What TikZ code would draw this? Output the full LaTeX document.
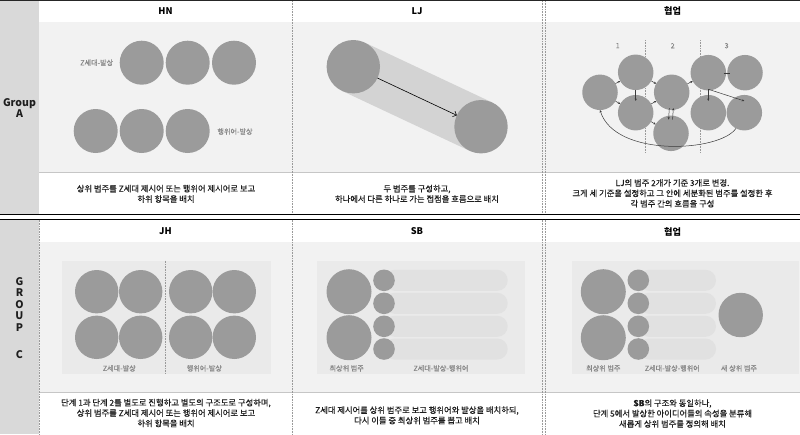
\documentclass[tikz,border=0pt]{standalone}
\usepackage{fontspec}
\setmainfont{Noto Sans CJK KR}
\newfontfamily\medfont{Noto Sans CJK KR}[FakeBold=0.35]
\usetikzlibrary{arrows.meta,calc}
\definecolor{areaC}{HTML}{F2F2F2}
\definecolor{leftC}{HTML}{D9D9D9}
\definecolor{circC}{HTML}{9B9B9B}
\definecolor{innerC}{HTML}{EAEAEA}
\definecolor{pillC}{HTML}{E1E1E1}
\definecolor{bandC}{HTML}{D3D3D3}
\definecolor{labC}{HTML}{888888}
\definecolor{txtC}{HTML}{1E1E1E}
\definecolor{sepC}{HTML}{C6C6C6}
\definecolor{arrC}{HTML}{3A3A3A}
\definecolor{dotC}{HTML}{9A9A9A}
\tikzset{
  blob/.style={circle, fill=circC, inner sep=0pt, outer sep=0pt, minimum size=#1},
  lab/.style={font=\medfont\fontsize{7.1}{8}\selectfont, text=labC, inner sep=0pt},
  ttl/.style={font=\fontsize{9.2}{11}\selectfont\bfseries, text=black, inner sep=0pt},
  body/.style={font=\medfont\fontsize{8.3}{10.4}\selectfont, text=txtC, align=center, inner sep=0pt},
  grp/.style={font=\fontsize{10.5}{11.5}\selectfont\bfseries, text=txtC, align=center, inner sep=0pt},
  arr/.style={draw=arrC, line width=0.5pt, -{Stealth[length=2.4pt,width=2.2pt]}},
  dotline/.style={draw=dotC, densely dotted, line width=0.6pt},
  pillbar/.style={fill=pillC, rounded corners=10.5pt}
}
\begin{document}
\begin{tikzpicture}[x=1pt,y=-1pt]
\fill[white] (0,0) rectangle (800,434);
\useasboundingbox (0,0) rectangle (800,434);
% backgrounds
\fill[leftC] (0,0) rectangle (39,214);
\fill[leftC] (0,219) rectangle (39,434);
\fill[areaC] (39,21.5) rectangle (800,172);
\fill[areaC] (39,241.5) rectangle (800,392);
\draw[sepC, line width=0.8pt] (39,172) -- (800,172);
\draw[sepC, line width=0.8pt] (39,392) -- (800,392);
\draw[black!85, line width=1pt] (0,0.5) -- (800,0.5);
\draw[black, line width=0.9pt] (0,214) -- (800,214);
\draw[black, line width=0.9pt] (0,219) -- (800,219);
% column dividers
\foreach \xx in {292,542,545.5} {
  \draw[dotline] (\xx,1) -- (\xx,213.5);
  \draw[dotline] (\xx,219.5) -- (\xx,434);
}
\draw[dotline] (39.5,219.5) -- (39.5,434);
% group labels
\node[grp] (gA) at (19.5,108) {Group\\A};
\node[grp] (gC) at (19.5,318) {G\\R\\O\\U\\P\\[16pt]C};
% titles
\node[ttl] (tHN) at (165.5,11) {HN};
\node[ttl] (tLJ) at (417,11) {LJ};
\node[ttl] (tHA) at (672.5,11) {협업};
\node[ttl] (tJH) at (165.5,231.5) {JH};
\node[ttl] (tSB) at (417,231.5) {SB};
\node[ttl] (tHC) at (672.5,231.5) {협업};

% ---------- HN ----------
\node[blob=44pt] (h1) at (141.7,62.7) {};
\node[blob=44pt] (h2) at (187.7,62.7) {};
\node[blob=44pt] (h3) at (234,62.7) {};
\node[blob=44pt] (h4) at (95.7,131) {};
\node[blob=44pt] (h5) at (141.7,131) {};
\node[blob=44pt] (h6) at (187.7,131) {};
\node[lab] (hl1) at (96.7,62.7) {Z세대-발상};
\node[lab] (hl2) at (235,131.5) {행위어-발상};

% ---------- LJ ----------
\coordinate (l1c) at (353.3,66.7);
\coordinate (l2c) at (481,126.7);
\draw[bandC, line width=53.4pt] (l1c) -- (l2c);
\node[blob=53.4pt] (L1) at (l1c) {};
\node[blob=53.4pt] (L2) at (l2c) {};
\draw[black, line width=0.6pt, -{Straight Barb[length=3pt,width=6pt]}] (L1) -- (L2);

% ---------- 협업 A ----------
\node[lab] (n1) at (617.7,45.7) {1};
\node[lab] (n2) at (672.7,45.7) {2};
\node[lab] (n3) at (726.7,45.7) {3};
\draw[dotline] (645.7,40) -- (645.7,153);
\draw[dotline] (700,40) -- (700,153);
\node[blob=35.5pt] (c1) at (600,92.3) {};
\node[blob=35.5pt] (c2) at (635.7,72.3) {};
\node[blob=35.5pt] (c3) at (635.7,112.7) {};
\node[blob=35.5pt] (c4) at (671.7,92.3) {};
\node[blob=35.5pt] (c5) at (671,133.3) {};
\node[blob=35.5pt] (c6) at (708.3,72.7) {};
\node[blob=35.5pt] (c7) at (745,72.7) {};
\node[blob=35.5pt] (c8) at (708.3,112.7) {};
\node[blob=35.5pt] (c9) at (744.3,112.7) {};
\draw[arr] (c1) -- (c2);
\draw[arr] (c1) -- (c3);
\draw[arr] ($(c2.south)+(0,-0.5)$) -- ($(c3.north)+(0,6)$);
\draw[arr] (c2) -- (c4);
\draw[arr] (c3) -- (c4);
\draw[arr] (c3) -- (c5);
\draw[arr] (c4) -- (c6);
\draw[arr] ($(c4.south)+(-2.4,-2)$) -- ($(c5.north)+(-2.4,4)$);
\draw[arr] ($(c5.north)+(1.6,4)$) -- ($(c4.south)+(1.6,-2)$);
\draw[draw=arrC, line width=0.6pt] ($(c6.east)+(-2.5,0.6)$) -- ($(c7.west)+(3.2,0.6)$);
\draw[arr] ($(c6.south)+(0,-1.2)$) -- ($(c8.north)+(0,6)$);
\draw[arr] ($(c6.south)+(0,-1.2)$) -- ($(c9.north)+(0,6)$);
\draw[arr] (c9.242) .. controls (720,152) and (615,158) .. (c1.south);

% ---------- JH ----------
\fill[innerC] (61.7,260.7) rectangle (270.7,374);
\draw[dotline] (165.7,260.7) -- (165.7,374);
\node[blob=43.4pt] (j1) at (96.7,291.7) {};
\node[blob=43.4pt] (j2) at (140.7,291.7) {};
\node[blob=43.4pt] (j3) at (190.7,291.7) {};
\node[blob=43.4pt] (j4) at (234.3,291.7) {};
\node[blob=43.4pt] (j5) at (96.7,337.3) {};
\node[blob=43.4pt] (j6) at (140.7,337.3) {};
\node[blob=43.4pt] (j7) at (190.7,337.3) {};
\node[blob=43.4pt] (j8) at (234.3,337.3) {};
\node[lab] (jl1) at (119.3,368.3) {Z세대-발상};
\node[lab] (jl2) at (204.3,368.3) {행위어-발상};

% ---------- SB ----------
\fill[innerC] (316.7,260.7) rectangle (525,374);
\foreach \yy in {280.3,303.3,326.3,349} {
  \fill[pillbar] (384,\yy-10.5) rectangle (507.7,\yy+10.5);
}
\node[blob=45pt] (s1) at (349,291.7) {};
\node[blob=45pt] (s2) at (349,337.7) {};
\node[blob=21.6pt] (s3) at (384,280.3) {};
\node[blob=21.6pt] (s4) at (384,303.3) {};
\node[blob=21.6pt] (s5) at (384,326.3) {};
\node[blob=21.6pt] (s6) at (384,349) {};
\node[lab] (sl1) at (346.7,368.3) {최상위 범주};
\node[lab] (sl2) at (441,368.3) {Z세대-발상-행위어};

% ---------- 협업 C ----------
\fill[innerC] (571.7,260.7) rectangle (799.3,374);
\foreach \yy in {280.3,303.3,326.3,349} {
  \fill[pillbar] (638.3,\yy-10.5) rectangle (716,\yy+10.5);
}
\node[blob=45pt] (k1) at (603.3,291.7) {};
\node[blob=45pt] (k2) at (603.3,337.7) {};
\node[blob=21.6pt] (k3) at (638.3,280.3) {};
\node[blob=21.6pt] (k4) at (638.3,303.3) {};
\node[blob=21.6pt] (k5) at (638.3,326.3) {};
\node[blob=21.6pt] (k6) at (638.3,349) {};
\node[blob=44.4pt] (k7) at (740.7,315) {};
\node[lab] (kl1) at (603.3,368.3) {최상위 범주};
\node[lab] (kl2) at (672.3,368.3) {Z세대-발상-행위어};
\node[lab] (kl3) at (739,368.3) {새 상위 범주};

% ---------- descriptions ----------
\node[body] (dA1) at (166,193.8) {상위 범주를 Z세대 제시어 또는 행위어 제시어로 보고\\하위 항목을 배치};
\node[body] (dA2) at (417,193.8) {두 범주를 구성하고,\\하나에서 다른 하나로 가는 접점을 흐름으로 배치};
\node[body] (dA3) at (672.5,193.3) {LJ의 범주 2개가 기준 3개로 변경.\\크게 세 기준을 설정하고 그 안에 세분화된 범주를 설정한 후\\각 범주 간의 흐름을 구성};
\node[body] (dC1) at (166,413) {단계 1과 단계 2를 별도로 진행하고 별도의 구조도로 구성하며,\\상위 범주를 Z세대 제시어 또는 행위어 제시어로 보고\\하위 항목을 배치};
\node[body] (dC2) at (417,415.3) {Z세대 제시어를 상위 범주로 보고 행위어와 발상을 배치하되,\\다시 이들 중 최상위 범주를 뽑고 배치};
\node[body] (dC3) at (672.5,413.5) {{\bfseries SB}의 구조와 동일하나,\\단계 5에서 발상한 아이디어들의 속성을 분류해\\새롭게 상위 범주를 정의해 배치};
\end{tikzpicture}
\end{document}
